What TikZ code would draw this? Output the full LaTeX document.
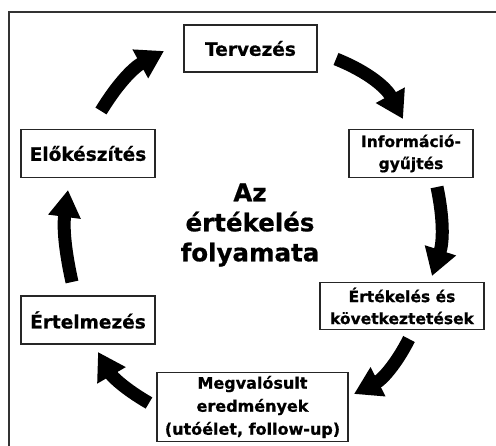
\documentclass[tikz,border=0pt]{standalone}
\usepackage{fontspec}
\setmainfont{DejaVu Sans}[BoldFeatures={FakeBold=0.7}]
\usetikzlibrary{arrows.meta}
\begin{document}
\begin{tikzpicture}[x=1pt,y=-1pt,
  stage/.style={draw=black!85,line width=1.2pt,fill=white,align=center,
    inner sep=0pt,font=\bfseries\fontsize{18.5}{22}\selectfont},
  smallstage/.style={stage,font=\bfseries\fontsize{15.5}{22}\selectfont},
  cycarrow/.style={line width=13pt,black,
    -{Triangle[length=27pt,width=31pt]},bend left=#1},
  cycarrow/.default=15
]
\useasboundingbox (0,0) rectangle (496,446);
% outer frame, open towards the right and bottom edges
\draw[line width=1.8pt,black!80] (496,12) -- (9,12) -- (9,446);

% stages of the cycle
\node[stage,minimum width=133pt,minimum height=47pt] (plan) at (250.5,48.5) {Tervezés};
\node[smallstage,minimum width=124pt,minimum height=48pt] (info) at (411,153.5) {Információ-\\gyűjtés};
\node[smallstage,minimum width=164pt,minimum height=47pt] (eval) at (402,306) {Értékelés és\\következtetések};
\node[stage,font=\bfseries\fontsize{16}{23}\selectfont,minimum width=191pt,minimum height=69pt] (result) at (252.5,407) {Megvalósult\\eredmények\\(utóélet, follow-up)};
\node[stage,minimum width=134pt,minimum height=48pt] (interp) at (88,320) {Értelmezés};
\node[stage,minimum width=134pt,minimum height=48pt] (prep) at (88,153.5) {Előkészítés};

% title in the middle
\node[align=center,font=\bfseries\fontsize{24.5}{30}\selectfont] (title) at (250,225) {Az\\értékelés\\folyamata};

% arrow ends
\coordinate (a1s) at (101,111);
\coordinate (a1e) at (164,51);
\coordinate (a2s) at (336,59);
\coordinate (a2e) at (403,119);
\coordinate (a3s) at (437,187);
\coordinate (a3e) at (432,276);
\coordinate (a4s) at (409,339);
\coordinate (a4e) at (354,394);
\coordinate (a5s) at (149,403);
\coordinate (a5e) at (98,352);
\coordinate (a6s) at (72,282);
\coordinate (a6e) at (68,190);

% cycle arrows
\draw[cycarrow] (a1s) to (a1e);
\draw[cycarrow=20] (a2s) to (a2e);
\draw[cycarrow] (a3s) to (a3e);
\draw[cycarrow=18] (a4s) to (a4e);
\draw[cycarrow] (a5s) to (a5e);
\draw[cycarrow=10] (a6s) to (a6e);
\end{tikzpicture}
\end{document}
